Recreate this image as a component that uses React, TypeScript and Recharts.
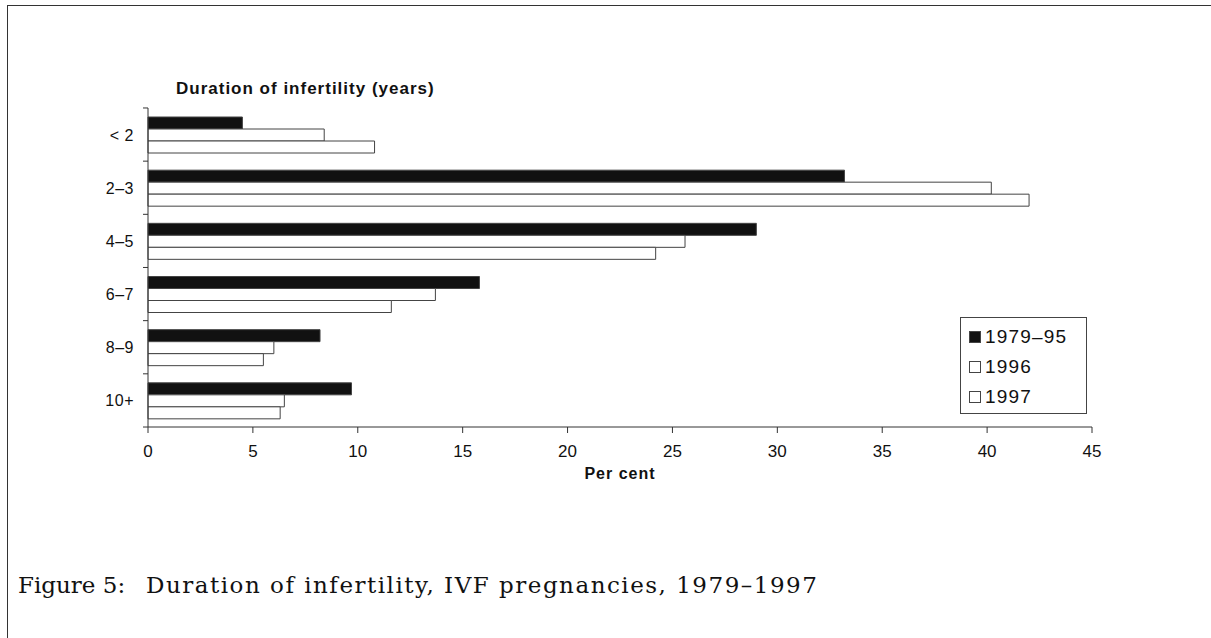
import { BarChart, Bar, XAxis, YAxis } from 'recharts';

const categories = ['< 2', '2–3', '4–5', '6–7', '8–9', '10+'];
const series1979to95 = [4.5, 33.2, 29.0, 15.8, 8.2, 9.7];
const series1996 = [8.4, 40.2, 25.6, 13.7, 6.0, 6.5];
const series1997 = [10.8, 42.0, 24.2, 11.6, 5.5, 6.3];
const xTicks = [0, 5, 10, 15, 20, 25, 30, 35, 40, 45];

const seriesInfo = [
  { key: 'p1979', name: '1979–95', fill: '#111111' },
  { key: 'p1996', name: '1996', fill: '#ffffff' },
  { key: 'p1997', name: '1997', fill: '#ffffff' },
];

const data = categories.map((cat, i) => ({
  cat,
  p1979: series1979to95[i],
  p1996: series1996[i],
  p1997: series1997[i],
}));

const sans = '"Liberation Sans", Arial, sans-serif';
const serif = '"DejaVu Serif", "Liberation Serif", serif';

const BAND = 53.2;

function YTick(props: any) {
  const { x, y, payload, index } = props;
  return (
    <g>
      <line x1={x + 3} x2={x + 8} y1={y - BAND / 2} y2={y - BAND / 2} stroke="#333" />
      {index === categories.length - 1 && (
        <line x1={x + 3} x2={x + 8} y1={y + BAND / 2} y2={y + BAND / 2} stroke="#333" />
      )}
      <text x={x - 6} y={y} dy={6} textAnchor="end" fontSize={16} letterSpacing={0.5} fontFamily={sans} fill="#111">
        {payload.value}
      </text>
    </g>
  );
}

function LegendBox() {
  return (
    <div
      style={{
        position: 'absolute',
        left: 960,
        top: 317,
        border: '1px solid #444',
        width: 127,
        height: 97,
        boxSizing: 'border-box',
        padding: '4px 0 0 8px',
        background: '#fff',
        fontFamily: sans,
        fontSize: 19,
        letterSpacing: 1.2,
        color: '#111',
      }}
    >
      {seriesInfo.map((s) => (
        <div key={s.key} style={{ display: 'flex', alignItems: 'center', height: 30 }}>
          <span
            style={{
              display: 'inline-block',
              width: 10,
              height: 10,
              background: s.fill,
              border: '1px solid #444',
              marginRight: 4,
            }}
          />
          {s.name}
        </div>
      ))}
    </div>
  );
}

export default function App() {
  return (
    <div style={{ position: 'absolute', left: 0, top: 0, width: 1211, height: 638, background: '#fff' }}>
      {/* frame lines from the scanned page */}
      <div style={{ position: 'absolute', left: 7, top: 5, width: 1204, height: 633, borderTop: '1px solid #333', borderLeft: '1px solid #333' }} />
      <div
        style={{
          position: 'absolute',
          left: 176,
          top: 79,
          fontFamily: sans,
          fontWeight: 'bold',
          fontSize: 17,
          letterSpacing: 1,
          color: '#111',
        }}
      >
        Duration of infertility (years)
      </div>
      <BarChart
        width={1211}
        height={638}
        data={data}
        layout="vertical"
        margin={{ top: 108, right: 119, bottom: 181, left: 88 }}
        barSize={12}
        barGap={0}
        style={{ position: 'absolute', left: 0, top: 0 }}
      >
        <XAxis
          type="number"
          domain={[0, 45]}
          ticks={xTicks}
          interval={0}
          height={30}
          tickSize={6}
          tickMargin={12}
          axisLine={{ stroke: '#333' }}
          tickLine={{ stroke: '#333' }}
          tick={{ fontSize: 17, fontFamily: sans, fill: '#111' }}
          label={{
            value: 'Per cent',
            position: 'insideBottom',
            offset: -22,
            style: { fontSize: 16, fontWeight: 'bold', letterSpacing: 1, fontFamily: sans, fill: '#111' },
          }}
        />
        <YAxis
          type="category"
          dataKey="cat"
          width={60}
          tickLine={false}
          axisLine={{ stroke: '#333' }}
          tick={<YTick />}
          interval={0}
        />
        {seriesInfo.map((s) => (
          <Bar
            key={s.key}
            dataKey={s.key}
            name={s.name}
            fill={s.fill}
            stroke="#444"
            strokeWidth={1}
            isAnimationActive={false}
          />
        ))}
      </BarChart>
      <LegendBox />
      <div style={{ position: 'absolute', left: 18, top: 572, fontFamily: serif, fontSize: 23, color: '#111', whiteSpace: 'pre' }}>
        Figure 5:
      </div>
      <div
        style={{
          position: 'absolute',
          left: 146,
          top: 572,
          fontFamily: serif,
          fontSize: 23,
          letterSpacing: 1.5,
          color: '#111',
          whiteSpace: 'pre',
        }}
      >
        Duration of infertility, IVF pregnancies, 1979–1997
      </div>
    </div>
  );
}
